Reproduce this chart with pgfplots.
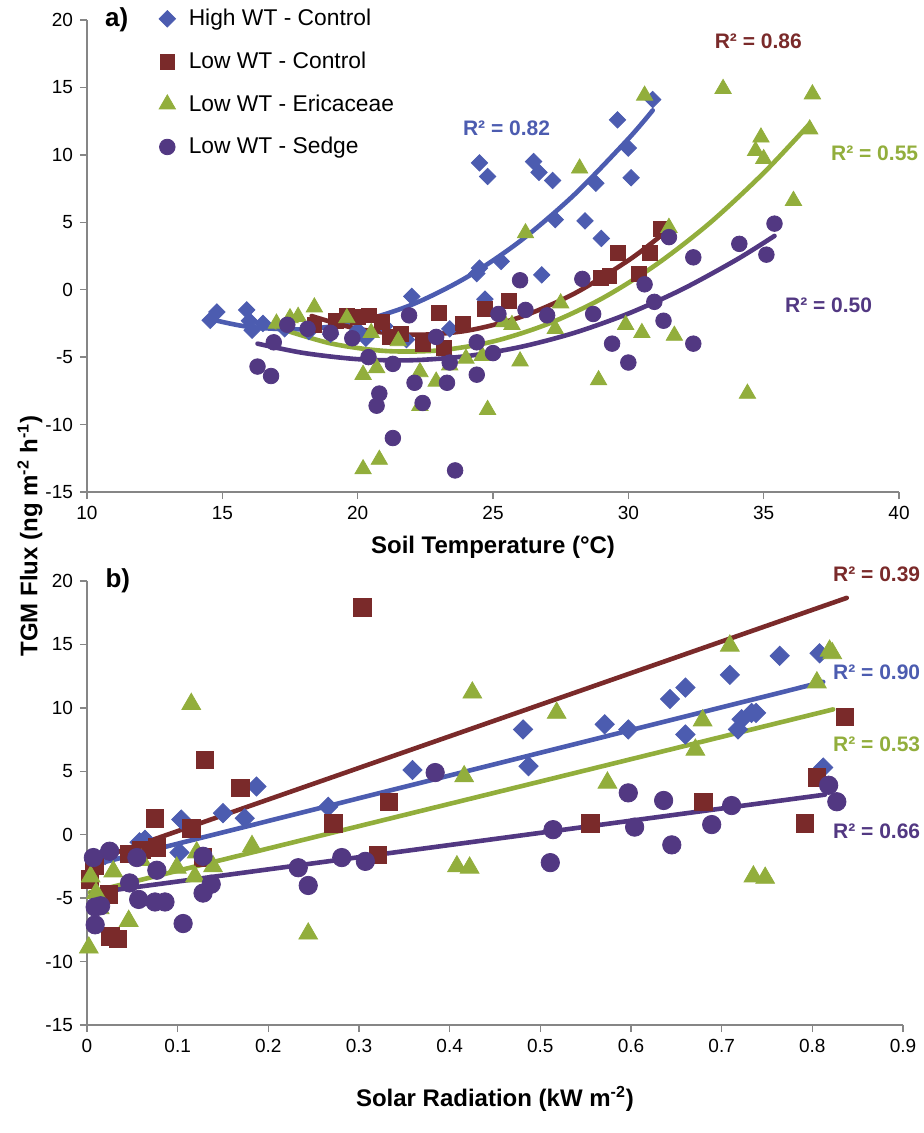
\documentclass[border=0pt]{standalone}
\usepackage{pgfplots}
\pgfplotsset{compat=1.18}
\usepackage{fontspec}
\setmainfont{Liberation Sans}
\definecolor{cblue}{RGB}{76,92,176}
\definecolor{cred}{RGB}{122,42,42}
\definecolor{cgreen}{RGB}{146,174,60}
\definecolor{cpurple}{RGB}{82,56,130}
\definecolor{caxis}{RGB}{134,134,134}
\pgfplotsset{
  myax/.style={scale only axis, axis x line*=bottom, axis y line*=left,
    axis line style={draw=caxis, line width=0.7pt, -},
    tick style={draw=caxis, line width=0.7pt}, tick align=outside,
    major tick length=3.5pt, clip=false,
    tick label style={font=\fontsize{9.5}{11}\selectfont},
    xlabel style={font=\bfseries\fontsize{12}{14}\selectfont},
    ymin=-15, ymax=20, ytick={-15,-10,-5,0,5,10,15,20},
    yticklabels={-15,-10,-5,0,5,10,15,20}},
  trend/.style={line width=2.3pt, no marks, forget plot, line cap=round},
}
\begin{document}
\begin{tikzpicture}
\useasboundingbox (0,0) rectangle (462pt,-566.5pt);
% ---------------- panel a
\begin{axis}[myax, at={(43.5pt,-246pt)}, anchor=south west,
  width=406pt, height=236pt, xmin=10, xmax=40,
  xtick={10,15,20,25,30,35,40}, xticklabels={10,15,20,25,30,35,40},
  xlabel={Soil Temperature (°C)}, xlabel style={yshift=-1.5pt},
  legend image code/.code={\path (0cm,0cm) (0.6cm,0cm);
    \draw[mark repeat=2,mark phase=2,#1] plot coordinates {(0cm,0cm) (0.3cm,0cm) (0.6cm,0cm)};},
  legend style={draw=none, fill=none, at={(axis description cs:0.0695,1.041)},
    anchor=north west, font=\fontsize{11.4}{13}\selectfont, row sep=7.6pt},
  legend cell align=left]
\addplot[only marks, mark=square*, mark size=2.9pt, mark options={rotate=45, fill=cblue, draw=cblue}] coordinates {
(14.55,-2.27)(14.8,-1.65)(15.9,-1.5)(16.0,-2.3)(16.1,-3.0)(16.5,-2.5)(17.3,-2.9)(18.2,-3.1)(19.0,-3.3)(20.0,-3.0)(20.3,-3.6)(21.0,-2.7)(21.8,-3.7)(22.0,-0.5)(23.4,-2.9)(24.4,1.2)(24.5,1.6)(24.5,9.4)(24.8,8.4)(24.7,-0.7)(25.3,2.1)(26.5,9.5)(26.7,8.7)(26.8,1.1)(27.2,8.1)(27.3,5.2)(28.4,5.1)(28.8,7.9)(29.0,3.8)(29.6,12.6)(30.0,10.5)(30.1,8.3)(30.9,14.1)};
\addlegendentry{High WT - Control}
\addplot[only marks, mark=square*, mark size=3.7pt, mark options={fill=cred, draw=cred}] coordinates {
(18.4,-2.6)(19.2,-2.3)(19.6,-1.9)(20.0,-2.0)(20.4,-1.9)(20.9,-2.4)(21.2,-3.5)(21.6,-3.3)(22.4,-4.0)(23.0,-1.7)(23.2,-4.3)(23.9,-2.5)(24.7,-1.4)(25.6,-0.8)(29.0,0.9)(29.3,1.0)(29.6,2.7)(30.4,1.2)(30.8,2.7)(31.2,4.5)};
\addlegendentry{Low WT - Control}
\addplot[only marks, mark=triangle*, mark size=4.7pt, mark options={fill=cgreen, draw=cgreen}] coordinates {
(17.0,-2.5)(17.5,-2.1)(17.8,-2.0)(18.4,-1.3)(19.6,-2.1)(20.2,-6.3)(20.7,-5.8)(20.2,-13.3)(20.8,-12.6)(20.5,-3.2)(21.5,-3.8)(22.3,-6.1)(22.9,-6.8)(22.3,-8.6)(23.4,-5.6)(24.0,-5.1)(24.6,-4.9)(24.8,-8.9)(25.4,-2.4)(25.7,-2.6)(26.0,-5.3)(26.2,4.2)(27.3,-2.9)(27.5,-1.0)(28.2,9.0)(28.9,-6.7)(29.9,-2.6)(30.5,-3.2)(30.6,14.4)(31.5,4.6)(31.7,-3.4)(33.5,14.9)(34.4,-7.7)(34.7,10.3)(34.9,11.3)(35.0,9.7)(36.1,6.6)(36.7,11.9)(36.8,14.5)};
\addlegendentry{Low WT - Ericaceae}
\addplot[only marks, mark=*, mark size=3.9pt, mark options={fill=cpurple, draw=cpurple}] coordinates {
(16.3,-5.7)(16.8,-6.4)(16.9,-3.9)(17.4,-2.6)(18.15,-2.9)(19.0,-3.2)(19.8,-3.6)(20.4,-5.0)(20.8,-7.7)(20.7,-8.6)(21.3,-5.5)(21.3,-11.0)(21.9,-1.9)(22.1,-6.9)(22.4,-8.4)(22.9,-3.5)(23.3,-6.9)(23.4,-5.4)(23.6,-13.4)(24.4,-6.3)(24.4,-3.9)(25.0,-4.7)(25.2,-1.8)(26.0,0.7)(26.2,-1.5)(27.0,-1.9)(28.3,0.8)(28.7,-1.8)(29.4,-4.0)(30.0,-5.4)(30.6,0.4)(30.96,-0.9)(31.3,-2.3)(31.5,3.9)(32.4,2.4)(32.4,-4.0)(34.1,3.4)(35.1,2.6)(35.4,4.9)};
\addlegendentry{Low WT - Sedge}
% trend lines
\addplot[trend, cblue, smooth] coordinates {(14.6,-2.20)(16,-2.76)(18,-2.93)(20,-2.38)(22,-1.11)(24,0.89)(26,3.60)(28,7.04)(30,11.19)(30.9,13.30)};
\addplot[trend, cred, smooth] coordinates {(18.3,-1.95)(20,-2.90)(22,-3.34)(24,-3.05)(26,-2.04)(28,-0.29)(30,2.17)(31.2,4.00)};
\addplot[trend, cgreen, smooth] coordinates {(17,-2.80)(19,-3.98)(21,-4.54)(23,-4.50)(25,-3.84)(27,-2.56)(29,-0.68)(31,1.82)(33,4.93)(35,8.66)(36.7,12.30)};
\addplot[trend, cpurple, smooth] coordinates {(16.3,-4.00)(18,-4.69)(20,-5.15)(22,-5.23)(24,-4.93)(26,-4.25)(28,-3.20)(30,-1.77)(32,0.04)(34,2.23)(35.4,3.99)};
\node[font=\bfseries\fontsize{10.5}{12}\selectfont, text=cblue] at (axis cs:25.5,12.0) {R² = 0.82};
\node[font=\bfseries\fontsize{10.5}{12}\selectfont, text=cred] at (axis cs:34.8,18.4) {R² = 0.86};
\node[font=\bfseries\fontsize{10.5}{12}\selectfont, text=cgreen] at (axis cs:39.1,10.1) {R² = 0.55};
\node[font=\bfseries\fontsize{10.5}{12}\selectfont, text=cpurple] at (axis cs:37.4,-1.16) {R² = 0.50};
\node[font=\bfseries\fontsize{13}{14}\selectfont] at (axis cs:11.1,20) {a)};
\end{axis}
% ---------------- panel b
\begin{axis}[myax, at={(43.5pt,-512.5pt)}, anchor=south west,
  width=408pt, height=222pt, xmin=0, xmax=0.9,
  xtick={0,0.1,0.2,0.3,0.4,0.5,0.6,0.7,0.8,0.9},
  xticklabels={0,0.1,0.2,0.3,0.4,0.5,0.6,0.7,0.8,0.9},
  xlabel={Solar Radiation (kW m\textsuperscript{-2})}, xlabel style={yshift=-10pt}]
\addplot[only marks, mark=square*, mark size=3.4pt, mark options={rotate=45, fill=cblue, draw=cblue}] coordinates {
(0.008,-2.0)(0.02,-1.6)(0.058,-0.6)(0.064,-0.4)(0.102,-1.4)(0.104,1.2)(0.150,1.7)(0.174,1.3)(0.187,3.8)(0.266,2.2)(0.359,5.1)(0.481,8.3)(0.487,5.4)(0.571,8.7)(0.597,8.3)(0.643,10.7)(0.660,11.6)(0.660,7.9)(0.709,12.6)(0.718,8.3)(0.722,9.1)(0.733,9.6)(0.738,9.6)(0.764,14.1)(0.808,14.3)(0.812,5.3)};
\addplot[only marks, mark=square*, mark size=4.4pt, mark options={fill=cred, draw=cred}] coordinates {
(0.003,-3.5)(0.008,-2.4)(0.024,-4.7)(0.026,-8.0)(0.034,-8.2)(0.046,-1.5)(0.06,-1.2)(0.077,-1.0)(0.075,1.3)(0.115,0.5)(0.128,-1.8)(0.13,5.9)(0.169,3.7)(0.272,0.9)(0.304,17.9)(0.333,2.6)(0.321,-1.6)(0.555,0.9)(0.68,2.6)(0.792,0.9)(0.805,4.5)(0.836,9.3)};
\addplot[only marks, mark=triangle*, mark size=5.4pt, mark options={fill=cgreen, draw=cgreen}] coordinates {
(0.002,-8.9)(0.004,-3.3)(0.01,-4.6)(0.014,-5.8)(0.029,-2.9)(0.046,-6.8)(0.06,-2.0)(0.099,-2.6)(0.115,10.3)(0.119,-3.3)(0.121,-1.4)(0.139,-2.5)(0.182,-0.9)(0.244,-7.8)(0.408,-2.5)(0.416,4.6)(0.422,-2.6)(0.425,11.2)(0.518,9.6)(0.574,4.1)(0.671,6.7)(0.679,9.0)(0.709,14.9)(0.735,-3.3)(0.748,-3.4)(0.805,12.0)(0.819,14.5)(0.822,14.3)};
\addplot[only marks, mark=*, mark size=4.6pt, mark options={fill=cpurple, draw=cpurple}] coordinates {
(0.007,-1.8)(0.009,-5.7)(0.009,-7.1)(0.015,-5.6)(0.025,-1.3)(0.047,-3.8)(0.055,-1.8)(0.057,-5.1)(0.075,-5.3)(0.077,-2.8)(0.086,-5.3)(0.106,-7.0)(0.128,-1.7)(0.128,-4.6)(0.137,-3.9)(0.233,-2.6)(0.244,-4.0)(0.281,-1.8)(0.307,-2.1)(0.384,4.9)(0.511,-2.2)(0.514,0.4)(0.597,3.3)(0.604,0.6)(0.636,2.7)(0.645,-0.8)(0.689,0.8)(0.711,2.3)(0.818,3.9)(0.827,2.6)};
\addplot[trend, cred] coordinates {(0.003,-2.13)(0.838,18.67)};
\addplot[trend, cblue] coordinates {(0.005,-2.41)(0.812,12.05)};
\addplot[trend, cgreen] coordinates {(0.003,-4.55)(0.823,9.88)};
\addplot[trend, cpurple] coordinates {(0.005,-4.60)(0.814,3.16)};
\node[font=\bfseries\fontsize{10.5}{12}\selectfont, text=cred] at (axis cs:0.871,20.5) {R² = 0.39};
\node[font=\bfseries\fontsize{10.5}{12}\selectfont, text=cblue] at (axis cs:0.871,12.8) {R² = 0.90};
\node[font=\bfseries\fontsize{10.5}{12}\selectfont, text=cgreen] at (axis cs:0.871,7.1) {R² = 0.53};
\node[font=\bfseries\fontsize{10.5}{12}\selectfont, text=cpurple] at (axis cs:0.871,0.26) {R² = 0.66};
\node[font=\bfseries\fontsize{13}{14}\selectfont] at (axis cs:0.034,20) {b)};
\end{axis}
\node[rotate=90, font=\bfseries\fontsize{12}{14}\selectfont] at (15pt,-268pt) {TGM Flux (ng m\textsuperscript{-2} h\textsuperscript{-1})};
\end{tikzpicture}
\end{document}
